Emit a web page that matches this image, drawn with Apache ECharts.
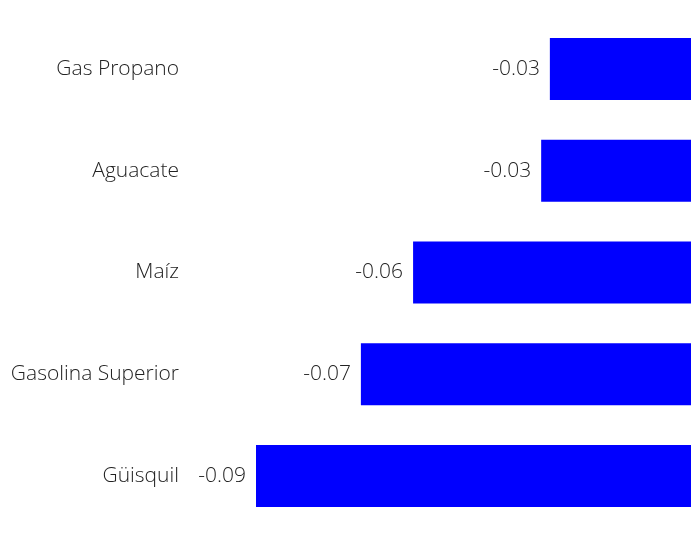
<!DOCTYPE html>
<html>
<head>
<meta charset="utf-8">
<script src="https://cdn.jsdelivr.net/npm/echarts@6/dist/echarts.min.js"></script>
<style>
  html, body { margin: 0; padding: 0; background: #fff; }
  #chart { width: 691px; height: 535px; }
</style>
</head>
<body>
<div id="chart"></div>
<script>
// 品目与变化值
const categories = ['Gas Propano', 'Aguacate', 'Maíz', 'Gasolina Superior', 'Güisquil']
const values = [-0.0292, -0.031, -0.0575, -0.0683, -0.09]

const fontFamily = '"Open Sans", sans-serif'

const chart = echarts.init(document.getElementById('chart'))
chart.setOption({
  animation: false,
  grid: { left: 256, right: 0, top: 18, bottom: 8, outerBoundsMode: 'none', containLabel: false },
  xAxis: {
    type: 'value',
    min: -0.09,
    max: 0,
    show: false,
  },
  yAxis: {
    type: 'category',
    data: categories,
    inverse: true,
    axisLine: { show: false },
    axisTick: { show: false },
    axisLabel: {
      margin: 77,
      color: '#222',
      fontSize: 21,
      fontWeight: 300,
      fontFamily: fontFamily,
    },
  },
  series: [{
    type: 'bar',
    data: values,
    barWidth: 62,
    itemStyle: { color: '#0000ff' },
    label: {
      show: true,
      position: 'left',
      distance: 10,
      color: '#222',
      fontSize: 21,
      fontWeight: 300,
      fontFamily: fontFamily,
      formatter: p => p.value.toFixed(2),
    },
  }],
})
</script>
</body>
</html>
